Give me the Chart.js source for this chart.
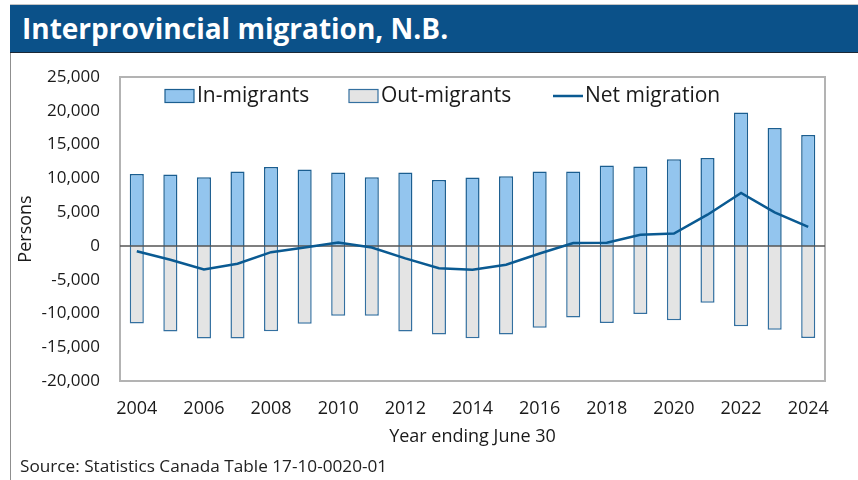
<!DOCTYPE html>
<html>
<head>
<meta charset="utf-8">
<script src="https://cdn.jsdelivr.net/npm/chart.js@4/dist/chart.umd.min.js"></script>
<style>
  html, body { margin: 0; padding: 0; background: #fff; }
  body { width: 858px; height: 480px; position: relative; overflow: hidden; font-family: "Open Sans", sans-serif; }
  #titleBar {
    position: absolute; left: 10px; top: 4px; width: 848px; height: 49px;
    background: #0B5189; border-top: 1px solid #c4c4c4; border-bottom: 1.5px solid #1b2836;
    box-sizing: border-box;
  }
  #titleBar h1 {
    margin: 0; position: absolute; left: 12px; top: 4px;
    color: #fff; font-size: 28px; font-weight: 700; letter-spacing: 0;
  }
  #frameLeft { position: absolute; left: 10px; top: 53px; width: 1px; height: 427px; background: #8f8f8f; }
  #wrap { position: absolute; left: 11px; top: 54px; width: 847px; height: 426px; }
  #source { position: absolute; left: 20px; top: 454px; font-size: 17.2px; color: #222; }
</style>
</head>
<body>
<div id="titleBar"><h1>Interprovincial migration, N.B.</h1></div>
<div id="frameLeft"></div>
<div id="wrap"><canvas id="mainChart" width="847" height="426"></canvas></div>
<div id="source">Source: Statistics Canada Table 17-10-0020-01</div>

<script>
// --- DATA ---
const years = ['2004', '2005', '2006', '2007', '2008', '2009', '2010', '2011', '2012', '2013', '2014',
               '2015', '2016', '2017', '2018', '2019', '2020', '2021', '2022', '2023', '2024'];
const inMigrants = [10650, 10560, 10160, 11000, 11690, 11300, 10860, 10160, 10860, 9770, 10130,
                    10300, 11000, 11000, 11900, 11740, 12830, 13000, 19730, 17460, 16430];
const outMigrants = [-11480, -12670, -13700, -13700, -12620, -11530, -10350, -10350, -12670, -13100, -13670,
                     -13100, -12130, -10600, -11430, -10100, -10990, -8430, -11880, -12420, -13650];
const netMigration = [-800, -2050, -3500, -2650, -930, -240, 500, -250, -1850, -3300, -3520,
                      -2780, -1130, 420, 480, 1660, 1830, 4620, 7840, 4950, 2800];
const yTicks = [-20000, -15000, -10000, -5000, 0, 5000, 10000, 15000, 20000, 25000];

const FONT = '"Open Sans", sans-serif';
const TEXT = '#1a1a1a';

// plot frame + zero line, drawn under the net line
const framePlugin = {
    id: 'frame',
    beforeDatasetsDraw(chart) {
        const { ctx, chartArea: a } = chart;
        ctx.save();
        ctx.strokeStyle = '#b3b3b3';
        ctx.lineWidth = 2;
        ctx.strokeRect(a.left, a.top, a.right - a.left, a.bottom - a.top);
        ctx.restore();
    },
    beforeDatasetDraw(chart, args) {
        if (chart.data.datasets[args.index].type !== 'line') return;
        const { ctx, chartArea: a } = chart;
        const y0 = chart.scales.y.getPixelForValue(0);
        ctx.save();
        ctx.strokeStyle = '#555';
        ctx.lineWidth = 1.5;
        ctx.beginPath();
        ctx.moveTo(a.left, y0);
        ctx.lineTo(a.right, y0);
        ctx.stroke();
        ctx.restore();
    }
};

// legend sits inside the plot box
const legendPlugin = {
    id: 'innerLegend',
    afterDraw(chart) {
        const { ctx } = chart;
        const ds = chart.data.datasets;
        const xs = [154, 338, 542];
        const y = 42;
        ctx.save();
        ctx.font = '21px ' + FONT;
        ctx.textBaseline = 'middle';
        ds.forEach((d, i) => {
            const x = xs[i];
            if (d.type === 'line') {
                ctx.strokeStyle = d.borderColor;
                ctx.lineWidth = 2.5;
                ctx.beginPath();
                ctx.moveTo(x, y);
                ctx.lineTo(x + 30, y);
                ctx.stroke();
            } else {
                ctx.fillStyle = d.backgroundColor;
                ctx.fillRect(x, y - 6.5, 29, 13);
                ctx.strokeStyle = d.borderColor;
                ctx.lineWidth = 1.2;
                ctx.strokeRect(x, y - 6.5, 29, 13);
            }
            ctx.fillStyle = TEXT;
            ctx.fillText(d.label, x + 32, y);
        });
        ctx.restore();
    }
};

new Chart(document.getElementById('mainChart'), {
    data: {
        labels: years,
        datasets: [{
            type: 'bar',
            label: 'In-migrants',
            data: inMigrants,
            backgroundColor: '#93C5EE',
            borderColor: '#1B5E90',
            borderWidth: 1.5,
            grouped: false,
            categoryPercentage: 1,
            barPercentage: 0.42,
            order: 2
        }, {
            type: 'bar',
            label: 'Out-migrants',
            data: outMigrants,
            backgroundColor: '#E4E4E4',
            borderColor: '#3470A0',
            borderWidth: 1.5,
            grouped: false,
            categoryPercentage: 1,
            barPercentage: 0.42,
            order: 1
        }, {
            type: 'line',
            label: 'Net migration',
            data: netMigration,
            borderColor: '#0A5A92',
            borderWidth: 2.5,
            pointRadius: 0,
            tension: 0,
            fill: false,
            order: 0
        }]
    },
    options: {
        responsive: false,
        animation: false,
        layout: { padding: { top: 23, right: 33, left: 0, bottom: 0 } },
        plugins: { legend: { display: false }, tooltip: { enabled: false } },
        scales: {
            x: {
                grid: { display: false, drawTicks: false },
                border: { display: false },
                ticks: {
                    autoSkip: false, maxRotation: 0, padding: 17,
                    color: TEXT, font: { family: FONT, size: 18 },
                    callback: function(v, i) { return i % 2 === 0 ? this.getLabelForValue(v) : ''; }
                },
                title: {
                    display: true, text: 'Year ending June 30', color: TEXT,
                    font: { family: FONT, size: 18 }, padding: { top: 4, bottom: 32 }
                },
                afterFit: (s) => { s.height = 99; }
            },
            y: {
                min: -20000, max: 25000,
                grid: { display: false, drawTicks: false },
                border: { display: false },
                afterBuildTicks: (s) => { s.ticks = yTicks.map(v => ({ value: v })); },
                ticks: {
                    padding: 20, color: TEXT, font: { family: FONT, size: 17 },
                    callback: (v) => v.toLocaleString('en-US')
                },
                title: {
                    display: true, text: 'Persons', color: TEXT,
                    font: { family: FONT, size: 18 }, padding: { top: 4, bottom: 4 }
                },
                afterFit: (s) => { s.width = 109; s.paddingTop = 5; s.paddingBottom = 5; }
            }
        }
    },
    plugins: [framePlugin, legendPlugin]
});
</script>
</body>
</html>
